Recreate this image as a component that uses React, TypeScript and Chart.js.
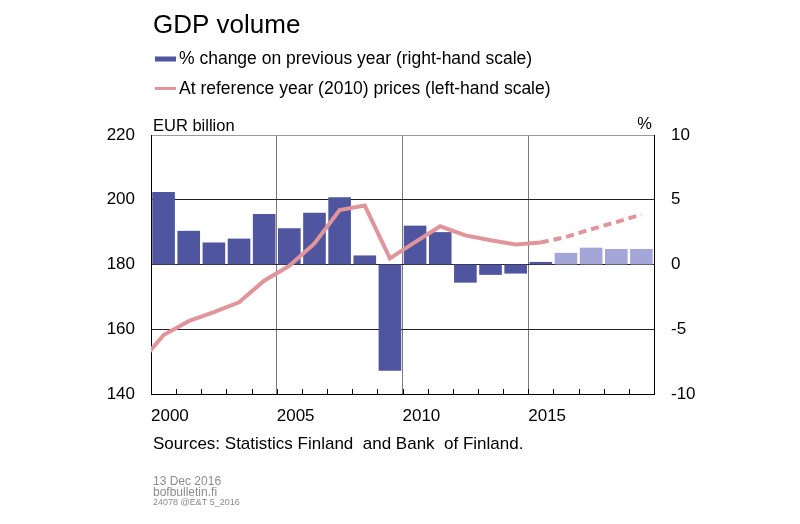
import { useEffect, useRef } from 'react';
import { Chart, registerables } from 'chart.js';

Chart.register(...registerables);

// Annual % change of GDP volume (right-hand scale); from 2016 on it is forecast
const barYears = [2000, 2001, 2002, 2003, 2004, 2005, 2006, 2007, 2008, 2009, 2010, 2011, 2012, 2013, 2014, 2015, 2016, 2017, 2018, 2019];
const changePct = [5.6, 2.6, 1.7, 2.0, 3.9, 2.8, 4.0, 5.2, 0.7, -8.2, 3.0, 2.5, -1.4, -0.8, -0.7, 0.2, 0.9, 1.3, 1.2, 1.2];
const forecastStart = 2016;

// GDP at reference year (2010) prices, EUR billion (left-hand scale)
const lineYears = [1999, 2000, 2001, 2002, 2003, 2004, 2005, 2006, 2007, 2008, 2009, 2010, 2011, 2012, 2013, 2014, 2015, 2016, 2017, 2018, 2019];
const gdpLevel = [149.0, 158.2, 162.5, 165.3, 168.3, 175.0, 179.6, 186.5, 196.8, 198.2, 181.9, 186.9, 191.8, 189.0, 187.5, 186.2, 186.8, 188.5, 190.9, 193.1, 195.4];
const lastActualYear = 2015;

const leftTicks = [140, 160, 180, 200, 220];
const rightTicks = [-10, -5, 0, 5, 10];
const labelStep = 5;

const FONT = "Arial, 'Liberation Sans', sans-serif";
const DARK = '#4f559f';
const LIGHT = '#a3a6d6';
const PINK = '#df9599';

const textPlugin = {
  id: 'texts',
  beforeDatasetsDraw(chart: Chart) {
    // small inner tick marks on the bottom axis at every year boundary
    const { ctx, chartArea } = chart;
    const xs = chart.scales.x;
    ctx.save();
    ctx.strokeStyle = '#000';
    ctx.lineWidth = 1;
    xs.ticks.forEach((t) => {
      const px = Math.round(xs.getPixelForValue(t.value)) + 0.5;
      ctx.beginPath();
      ctx.moveTo(px, chartArea.bottom);
      ctx.lineTo(px, chartArea.bottom - 5);
      ctx.stroke();
    });
    ctx.restore();
  },
  afterDraw(chart: Chart) {
    const { ctx, chartArea } = chart;
    ctx.save();
    ctx.fillStyle = '#000';
    ctx.textAlign = 'left';
    ctx.textBaseline = 'alphabetic';

    ctx.font = `26px ${FONT}`;
    ctx.fillText('GDP volume', 153, 33);

    ctx.font = `17.5px ${FONT}`;
    ctx.fillStyle = DARK;
    ctx.fillRect(155, 56.5, 21, 5);
    ctx.fillStyle = '#000';
    ctx.fillText('% change on previous year (right-hand scale)', 179, 64);

    ctx.strokeStyle = PINK;
    ctx.lineWidth = 3;
    ctx.beginPath();
    ctx.moveTo(155, 88.5);
    ctx.lineTo(176, 88.5);
    ctx.stroke();
    ctx.fillText('At reference year (2010) prices (left-hand scale)', 179, 94);

    ctx.font = `16.5px ${FONT}`;
    ctx.fillText('EUR billion', 153, 130.5);
    ctx.textAlign = 'right';
    ctx.fillText('%', chartArea.right - 2, 129);

    ctx.textAlign = 'left';
    ctx.font = `17px ${FONT}`;
    ctx.fillText('Sources: Statistics Finland  and Bank  of Finland.', 153, 449);

    ctx.fillStyle = '#8c8c8c';
    ctx.font = `12px ${FONT}`;
    ctx.fillText('13 Dec 2016', 153, 485);
    ctx.fillText('bofbulletin.fi', 153, 496);
    ctx.font = `9px ${FONT}`;
    ctx.fillText('24078 @E&T 5_2016', 153, 505);
    ctx.restore();
  },
};

const App = () => {
  const canvasRef = useRef<HTMLCanvasElement>(null);
  const chartRef = useRef<Chart | null>(null);

  useEffect(() => {
    const ctx = canvasRef.current?.getContext('2d');
    if (!ctx) return;
    if (chartRef.current) chartRef.current.destroy();

    const xMin = barYears[0] - 0.5;
    const xMax = barYears[barYears.length - 1] + 0.5;

    chartRef.current = new Chart(ctx, {
      type: 'bar',
      data: {
        datasets: [
          {
            type: 'line',
            label: 'At reference year (2010) prices (left-hand scale)',
            data: lineYears.map((y, i) => ({ x: y, y: gdpLevel[i] })),
            yAxisID: 'y',
            borderColor: PINK,
            borderWidth: 4,
            pointRadius: 0,
            tension: 0,
            clip: 0,
            order: 0,
            segment: {
              borderDash: (c: any) => (c.p0.parsed.x >= lastActualYear ? [8, 5] : undefined),
            },
          },
          {
            type: 'bar',
            label: '% change on previous year (right-hand scale)',
            data: barYears.map((y, i) => ({ x: y, y: changePct[i] })),
            yAxisID: 'y1',
            backgroundColor: barYears.map((y) => (y >= forecastStart ? LIGHT : DARK)),
            barPercentage: 0.9,
            categoryPercentage: 1,
            order: 1,
          },
        ] as any,
      },
      options: {
        responsive: false,
        animation: false,
        layout: { padding: { top: 135, left: 0, right: 0, bottom: 0 } },
        plugins: { legend: { display: false }, tooltip: { enabled: false } },
        scales: {
          x: {
            type: 'linear',
            offset: false,
            min: xMin,
            max: xMax,
            afterBuildTicks: (scale: any) => {
              scale.ticks = [...barYears.map((y) => y - 0.5), xMax].map((v) => ({ value: v }));
            },
            afterFit: (scale: any) => {
              scale.height = 130;
            },
            grid: {
              offset: false,
              drawTicks: false,
              color: (c: any) => {
                const v = c.tick?.value;
                return v > xMin && v < xMax && (v + 0.5) % labelStep === 0 ? '#7a7a7a' : 'rgba(0,0,0,0)';
              },
            },
            border: { display: true, color: '#000', width: 1 },
            ticks: {
              autoSkip: false,
              maxRotation: 0,
              align: 'start',
              padding: 12,
              color: '#000',
              font: { family: FONT, size: 17 },
              callback: (v: any) => {
                const yr = Number(v) + 0.5;
                return yr % labelStep === 0 && Number(v) < xMax ? String(yr) : '';
              },
            },
          },
          y: {
            position: 'left',
            min: leftTicks[0],
            max: leftTicks[leftTicks.length - 1],
            afterBuildTicks: (scale: any) => {
              scale.ticks = leftTicks.map((v) => ({ value: v }));
            },
            afterFit: (scale: any) => {
              scale.width = 151;
            },
            grid: {
              drawTicks: false,
              color: (c: any) => (c.tick?.value === leftTicks[leftTicks.length - 1] ? '#9a9a9a' : '#222'),
            },
            border: { display: true, color: '#000', width: 1 },
            ticks: {
              padding: 16,
              color: '#000',
              font: { family: FONT, size: 17 },
            },
          },
          y1: {
            position: 'right',
            min: rightTicks[0],
            max: rightTicks[rightTicks.length - 1],
            afterBuildTicks: (scale: any) => {
              scale.ticks = rightTicks.map((v) => ({ value: v }));
            },
            afterFit: (scale: any) => {
              scale.width = 146;
            },
            grid: { display: false, drawTicks: false },
            border: { display: true, color: '#000', width: 1 },
            ticks: {
              padding: 17,
              color: '#000',
              font: { family: FONT, size: 17 },
            },
          },
        },
      } as any,
      plugins: [textPlugin],
    });

    return () => {
      if (chartRef.current) {
        chartRef.current.destroy();
        chartRef.current = null;
      }
    };
  }, []);

  return (
    <div style={{ position: 'fixed', left: 0, top: 0, width: 800, height: 524, background: '#fff' }}>
      <canvas ref={canvasRef} width={800} height={524} />
    </div>
  );
};

export default App;
